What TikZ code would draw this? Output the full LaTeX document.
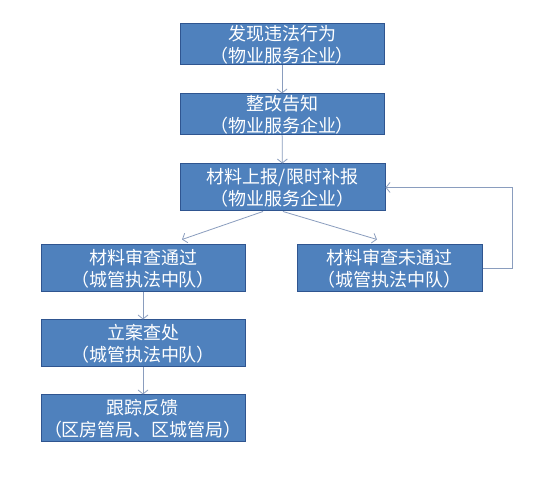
\documentclass[tikz,border=0pt]{standalone}
\usepackage{fontspec}
\setmainfont{Noto Sans CJK SC}
\usetikzlibrary{arrows.meta,calc}
\definecolor{boxblue}{HTML}{4F81BD}
\definecolor{boxedge}{HTML}{2F5590}
\definecolor{flowline}{HTML}{8A9DBE}
\tikzset{
  flowbox/.style={draw=boxedge, line width=1pt, fill=boxblue, text=white, anchor=center,
    minimum width=204pt, minimum height=47pt, inner sep=0pt,
    font=\fontsize{18}{22}\selectfont},
  flowarrow/.style={->, >={Straight Barb[length=4pt,width=10pt]}, draw=flowline, line width=0.8pt}
}
\begin{document}
\begin{tikzpicture}[x=1pt, y=1pt, every text node part/.style={align=center}]
        \useasboundingbox[fill=white] (0, 0) rectangle (550, 478);

        \node(find) at (282, 433.5)[flowbox, minimum height=41pt]{发现违法行为\\（物业服务企业）};
        \node(notice) at (282, 363.5)[flowbox, minimum height=41pt]{整改告知\\（物业服务企业）};
        \node(report) at (282.5, 290.5)[flowbox, minimum width=205pt]{材料上报/限时补报\\（物业服务企业）};
        \node(pass) at (143, 209.5)[flowbox]{材料审查通过\\（城管执法中队）};
        \node(fail) at (389.5, 209.5)[flowbox, minimum width=185pt]{材料审查未通过\\（城管执法中队）};
        \node(filecase) at (143, 134.5)[flowbox]{立案查处\\（城管执法中队）};
        \node(track) at (143, 59.5)[flowbox]{跟踪反馈\\（区房管局、区城管局）};

        \draw[flowarrow](find) -- (notice);
        \draw[flowarrow](notice) -- (report);
        \draw[flowarrow]($(report.south)+(-19.5, 0)$) -- ($(pass.north)+(39, 5)$);
        \draw[flowarrow]($(report.south)+(0.5, 0)$) -- ($(fail.north)+(-12.5, 5)$);
        \draw[flowarrow](fail.east) -- ++(30, 0) |- (report.east);
        \draw[flowarrow](pass) -- (filecase);
        \draw[flowarrow](filecase) -- (track);

    \end{tikzpicture}
\end{document}
